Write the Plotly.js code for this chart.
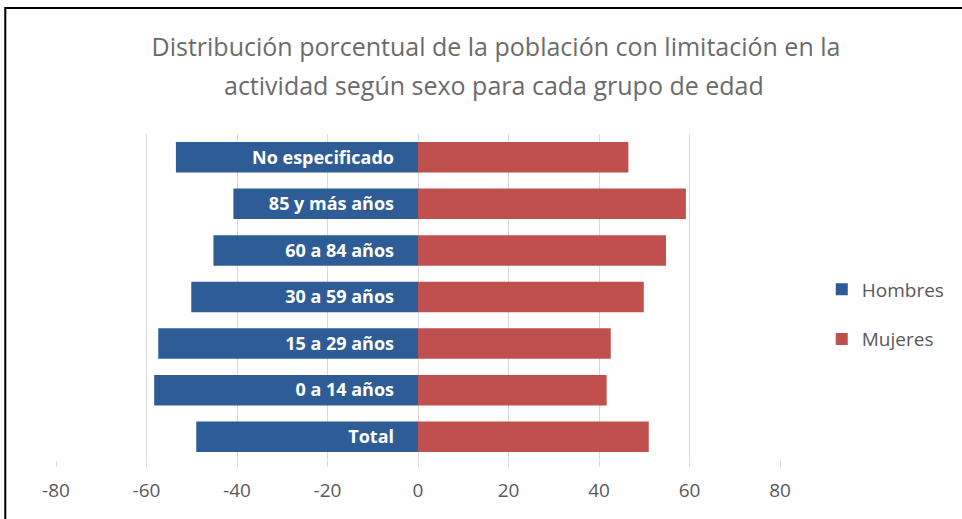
<!DOCTYPE html>
<html>
<head>
<meta charset="utf-8">
<script src="https://cdn.plot.ly/plotly-3.0.1.min.js"></script>
<style>html,body{margin:0;padding:0;background:#fff;}#chart{width:962px;height:519px;}</style>
</head>
<body>
<div id="chart"></div>
<script>
// Data (bottom to top)
const categories = ["Total", "0 a 14 años", "15 a 29 años", "30 a 59 años", "60 a 84 años", "85 y más años", "No especificado"];
const hombres = [-49.0, -58.3, -57.4, -50.1, -45.2, -40.8, -53.5];
const mujeres = [51.0, 41.7, 42.6, 49.9, 54.8, 59.2, 46.5];
const xTicks = [-80, -60, -40, -20, 0, 20, 40, 60, 80];
const titleLine1 = "Distribución porcentual de la población con limitación en la";
const titleLine2 = "actividad según sexo para cada grupo de edad";

const W = 962, H = 519;
const m = {l: 56, r: 178, t: 134, b: 59};
const pw = W - m.l - m.r, ph = H - m.t - m.b;
const px = x => (x - m.l) / pw;
const py = y => (H - m.b - y) / ph;

const gray = "#595959";
const titleFont = {size: 25, color: "#6b6b6b", family: "Open Sans, sans-serif"};
const traces = [
  {type: "bar", orientation: "h", name: "Hombres", y: categories, x: hombres,
   marker: {color: "#2E5C96"}, legendgroup: "h", hoverinfo: "skip"},
  {type: "bar", orientation: "h", name: "Mujeres", y: categories, x: mujeres,
   marker: {color: "#C0504D"}, legendgroup: "m", hoverinfo: "skip"}
];

const layout = {
  width: W, height: H,
  margin: m,
  paper_bgcolor: "#fff", plot_bgcolor: "#fff",
  barmode: "relative", bargap: 0.345,
  font: {family: "Open Sans, sans-serif", color: gray},
  title: {text: titleLine1, font: titleFont,
          xref: "container", yref: "container", x: 496 / W, xanchor: "center",
          y: 1 - 47 / H, yanchor: "middle"},
  annotations: [{text: titleLine2, xref: "paper", yref: "paper", x: px(496), y: py(85),
                 xanchor: "center", yanchor: "middle", showarrow: false, font: titleFont}],
  xaxis: {range: [-80, 80], tickvals: xTicks, ticktext: xTicks.map(String),
          showgrid: true, gridcolor: "#D9D9D9", gridwidth: 1,
          zeroline: true, zerolinecolor: "#D9D9D9", zerolinewidth: 1,
          ticks: "outside", ticklen: 6, tickcolor: "#D9D9D9", ticklabelstandoff: 7,
          tickfont: {size: 19, color: gray}, showline: false, fixedrange: true},
  yaxis: {type: "category", anchor: "free", position: 0.5, side: "left",
          ticklabelstandoff: 24, ticks: "", showgrid: false, zeroline: false, showline: false,
          tickfont: {size: 18, color: "#FFFFFF", family: "Open Sans, sans-serif", weight: "bold"},
          layer: "above traces", fixedrange: true},
  showlegend: true,
  legend: {x: px(826), xanchor: "left", y: py(314.5), yanchor: "middle",
           traceorder: "grouped", tracegroupgap: 22, itemwidth: 30,
           font: {size: 19, color: gray}, bgcolor: "rgba(0,0,0,0)"},
  shapes: [{type: "rect", xref: "paper", yref: "paper",
            x0: px(5), x1: px(1100), y0: py(600), y1: py(8),
            line: {color: "#000", width: 2}, fillcolor: "rgba(0,0,0,0)", layer: "below"}]
};

Plotly.newPlot("chart", traces, layout, {displayModeBar: false, staticPlot: true});
</script>
</body>
</html>
